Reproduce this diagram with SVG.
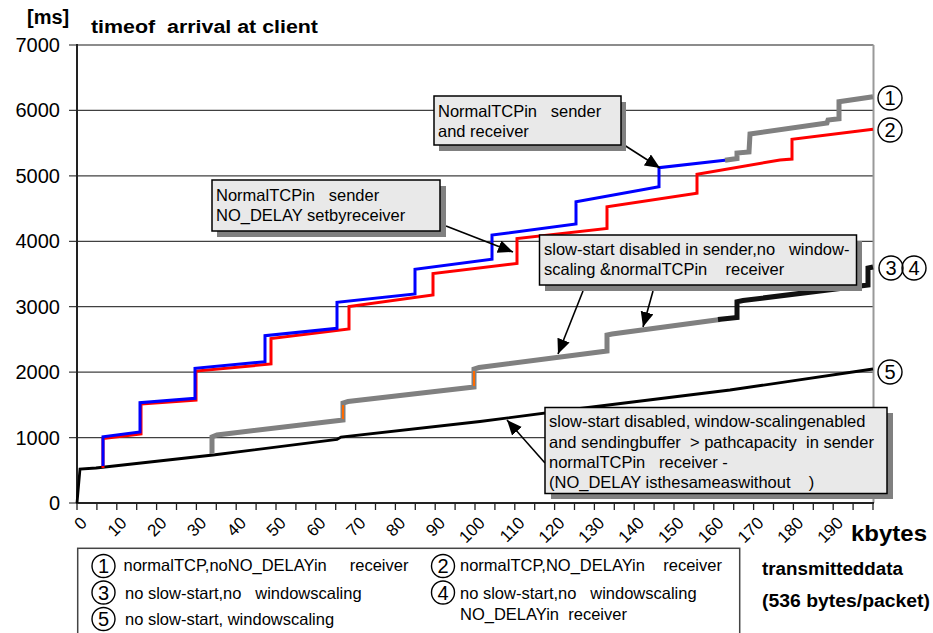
<svg xmlns="http://www.w3.org/2000/svg" width="933" height="633" viewBox="0 0 933 633">
<style>
text{font-family:"Liberation Sans",Arial,sans-serif;fill:#000}
.b{font-weight:bold}
.ann{font-size:16.5px}
.leg{font-size:16.5px}
.yl{font-size:20px;text-anchor:end}
.xl{font-size:17px;text-anchor:end}
.grid{stroke:#404040;stroke-width:1.2}
.box{fill:#e9e9e9;stroke:#000;stroke-width:1.5}
.sh{fill:#808080}
.circ{fill:none;stroke:#000;stroke-width:1.4}
.cd{font-size:20px;text-anchor:middle}
.arr{stroke:#000;stroke-width:1.6;fill:none;marker-end:url(#ah)}
.ser{fill:none;stroke-linejoin:miter}
</style>
<defs>
<marker id="ah" markerUnits="userSpaceOnUse" markerWidth="16" markerHeight="14" refX="15" refY="6.5" orient="auto">
<path d="M0,0 L15,6.5 L0,13 z" fill="#000"/>
</marker>
</defs>
<rect width="933" height="633" fill="#fff"/>

<g id="axes">
<text class="b" x="27" y="24" style="font-size:20px">[ms]</text>
<text class="b" x="91" y="33" style="font-size:18px" xml:space="preserve" textLength="227" lengthAdjust="spacingAndGlyphs">timeof  arrival at client</text>
<g class="grid">
<line x1="69" y1="110.4" x2="873" y2="110.4"/>
<line x1="69" y1="175.9" x2="873" y2="175.9"/>
<line x1="69" y1="241.3" x2="873" y2="241.3"/>
<line x1="69" y1="306.7" x2="873" y2="306.7"/>
<line x1="69" y1="372.1" x2="873" y2="372.1"/>
<line x1="69" y1="437.6" x2="873" y2="437.6"/>
<line x1="69" y1="503" x2="77" y2="503"/>
<line x1="69" y1="45" x2="77" y2="45"/>
</g>
<line x1="77" y1="45" x2="873.5" y2="45" stroke="#8c8c8c" stroke-width="2"/>
<line x1="873.5" y1="45" x2="873.5" y2="503" stroke="#999" stroke-width="2"/>
<line x1="77" y1="44" x2="77" y2="504" stroke="#222" stroke-width="2"/>
<line x1="76" y1="503" x2="874" y2="503" stroke="#222" stroke-width="2"/>
<path stroke="#222" stroke-width="1.3" d="M77,503v7 M96.9,503v7 M116.8,503v7 M136.7,503v7 M156.6,503v7 M176.5,503v7 M196.4,503v7 M216.3,503v7 M236.2,503v7 M256.1,503v7 M276,503v7 M295.9,503v7 M315.8,503v7 M335.7,503v7 M355.6,503v7 M375.5,503v7 M395.4,503v7 M415.3,503v7 M435.2,503v7 M455.1,503v7 M475,503v7 M494.9,503v7 M514.8,503v7 M534.7,503v7 M554.6,503v7 M574.5,503v7 M594.4,503v7 M614.3,503v7 M634.2,503v7 M654.1,503v7 M674,503v7 M693.9,503v7 M713.8,503v7 M733.7,503v7 M753.6,503v7 M773.5,503v7 M793.4,503v7 M813.3,503v7 M833.2,503v7 M853.1,503v7 M873,503v7"/>
<text class="yl" x="60" y="52">7000</text>
<text class="yl" x="60" y="117.4">6000</text>
<text class="yl" x="60" y="182.9">5000</text>
<text class="yl" x="60" y="248.3">4000</text>
<text class="yl" x="60" y="313.7">3000</text>
<text class="yl" x="60" y="379.1">2000</text>
<text class="yl" x="60" y="444.6">1000</text>
<text class="yl" x="60" y="510">0</text>
<text class="xl" transform="translate(88,524) rotate(-45)">0</text>
<text class="xl" transform="translate(127.8,524) rotate(-45)">10</text>
<text class="xl" transform="translate(167.6,524) rotate(-45)">20</text>
<text class="xl" transform="translate(207.4,524) rotate(-45)">30</text>
<text class="xl" transform="translate(247.2,524) rotate(-45)">40</text>
<text class="xl" transform="translate(287,524) rotate(-45)">50</text>
<text class="xl" transform="translate(326.8,524) rotate(-45)">60</text>
<text class="xl" transform="translate(366.6,524) rotate(-45)">70</text>
<text class="xl" transform="translate(406.4,524) rotate(-45)">80</text>
<text class="xl" transform="translate(446.2,524) rotate(-45)">90</text>
<text class="xl" transform="translate(486,524) rotate(-45)">100</text>
<text class="xl" transform="translate(525.8,524) rotate(-45)">110</text>
<text class="xl" transform="translate(565.6,524) rotate(-45)">120</text>
<text class="xl" transform="translate(605.4,524) rotate(-45)">130</text>
<text class="xl" transform="translate(645.2,524) rotate(-45)">140</text>
<text class="xl" transform="translate(685,524) rotate(-45)">150</text>
<text class="xl" transform="translate(724.8,524) rotate(-45)">160</text>
<text class="xl" transform="translate(764.6,524) rotate(-45)">170</text>
<text class="xl" transform="translate(804.4,524) rotate(-45)">180</text>
<text class="xl" transform="translate(844.2,524) rotate(-45)">190</text>
<text class="b" x="851" y="541" style="font-size:22px" textLength="76" lengthAdjust="spacingAndGlyphs">kbytes</text>
<text class="b" x="762" y="575" style="font-size:18px" textLength="141" lengthAdjust="spacingAndGlyphs">transmitteddata</text>
<text class="b" x="762" y="607" style="font-size:18px" textLength="168" lengthAdjust="spacingAndGlyphs">(536 bytes/packet)</text>
</g>

<g id="series">
<polyline class="ser" stroke="#000" stroke-width="2.8" points="77,503 80,469 96,468 213,455 337,439.5 341,437 480,421.5 580,408.5 730,390 873,369"/>
<polyline class="ser" stroke="#808080" stroke-width="5" points="212,454 212,437 217,435 343,420 343,403 348,401.5 474,387 474,369 479,367.5 607,351 607,335 612,334 720,319.5"/>
<polyline class="ser" stroke="#111" stroke-width="5" points="718,319.5 737,317.5 737,301.7 743,300.5 868,285 868,268 873,267"/>
<path stroke="#ff6a00" stroke-width="2" d="M343,419 V405 M474,386 V371"/>
<polyline class="ser" stroke="#ff0000" stroke-width="3" points="103,468 103,438.5 141,434 141,404 196,400 196,371 271,364 271,338.5 349,329 349,306.5 433,295 433,273.5 517,263.5 517,238.5 607,228.5 607,206.7 697,193.3 697,174.3 780,160 792,159 792,139.3 873,129.3"/>
<polyline class="ser" stroke="#0000ff" stroke-width="3" points="103,466 103,436.7 140,432 140,402.7 195,398.3 195,368.3 265,361.7 265,335.7 337,328.3 337,302.3 415,294 415,269.3 492,259.3 492,235 576,224 576,201.7 659,186.7 659,167.7 727,160"/>
<polyline class="ser" stroke="#808080" stroke-width="5" points="725,160.3 737,158.5 737,153 749,152 750,134 827,123 828,120 839,118.8 839,101.7 873,96.7"/>
</g>

<g id="curve-labels">
<circle class="circ" cx="890" cy="98" r="12"/><text class="cd" x="890" y="105">1</text>
<circle class="circ" cx="890" cy="130" r="12"/><text class="cd" x="890" y="137">2</text>
<circle class="circ" cx="891" cy="268" r="12"/><text class="cd" x="891" y="275">3</text>
<circle class="circ" cx="914" cy="268" r="12"/><text class="cd" x="914" y="275">4</text>
<circle class="circ" cx="890" cy="372" r="12"/><text class="cd" x="890" y="379">5</text>
</g>

<g id="connectors">
<line class="arr" x1="621" y1="143" x2="660" y2="168"/>
<line class="arr" x1="446" y1="226" x2="513" y2="252"/>
<line class="arr" x1="583" y1="291" x2="558" y2="354"/>
<line class="arr" x1="653" y1="291" x2="643" y2="327"/>
<line class="arr" x1="545" y1="463" x2="507" y2="420"/>
</g>

<g id="note-1">
<rect class="sh" x="439" y="102" width="187" height="49"/>
<rect class="box" x="434" y="96" width="187" height="49"/>
<text class="ann" x="438" y="117" xml:space="preserve">NormalTCPin   sender</text>
<text class="ann" x="438" y="137">and receiver</text>
</g>
<g id="note-2">
<rect class="sh" x="217" y="186" width="229" height="51"/>
<rect class="box" x="212" y="180" width="228" height="51"/>
<text class="ann" x="216" y="201" xml:space="preserve">NormalTCPin   sender</text>
<text class="ann" x="216" y="221">NO_DELAY setbyreceiver</text>
</g>
<g id="note-3">
<rect class="sh" x="545" y="241" width="317" height="50"/>
<rect class="box" x="539.5" y="235" width="317" height="50"/>
<text class="ann" x="544" y="255" xml:space="preserve">slow-start disabled in sender,no   window-</text>
<text class="ann" x="544" y="275" xml:space="preserve">scaling &amp;normalTCPin    receiver</text>
</g>
<g id="note-4">
<rect class="sh" x="551" y="413" width="342" height="86"/>
<rect class="box" x="545" y="407.5" width="342" height="86"/>
<text class="ann" x="549" y="427" xml:space="preserve">slow-start disabled, window-scalingenabled</text>
<text class="ann" x="549" y="447.5" xml:space="preserve">and sendingbuffer  &gt; pathcapacity  in sender</text>
<text class="ann" x="549" y="467.5" xml:space="preserve">normalTCPin   receiver -</text>
<text class="ann" x="549" y="488" xml:space="preserve">(NO_DELAY isthesameaswithout    )</text>
</g>

<g id="legend">
<rect x="77.7" y="548.3" width="662" height="100" fill="#fff" stroke="#444" stroke-width="1.5"/>
<circle class="circ" cx="103.5" cy="566" r="11.5"/><text class="cd" x="103.5" y="573">1</text>
<text class="leg" x="123.5" y="571" xml:space="preserve">normalTCP,noNO_DELAYin     receiver</text>
<circle class="circ" cx="103.5" cy="592.5" r="11.5"/><text class="cd" x="103.5" y="599.5">3</text>
<text class="leg" x="125" y="598.5" xml:space="preserve">no slow-start,no   windowscaling</text>
<circle class="circ" cx="103.5" cy="619" r="11.5"/><text class="cd" x="103.5" y="626">5</text>
<text class="leg" x="125" y="625" xml:space="preserve">no slow-start, windowscaling</text>
<circle class="circ" cx="443" cy="566" r="11.5"/><text class="cd" x="443" y="573">2</text>
<text class="leg" x="460" y="571" xml:space="preserve">normalTCP,NO_DELAYin    receiver</text>
<circle class="circ" cx="443" cy="592.5" r="11.5"/><text class="cd" x="443" y="599.5">4</text>
<text class="leg" x="460" y="599" xml:space="preserve">no slow-start,no   windowscaling</text>
<text class="leg" x="460" y="620" xml:space="preserve">NO_DELAYin  receiver</text>
</g>
</svg>
